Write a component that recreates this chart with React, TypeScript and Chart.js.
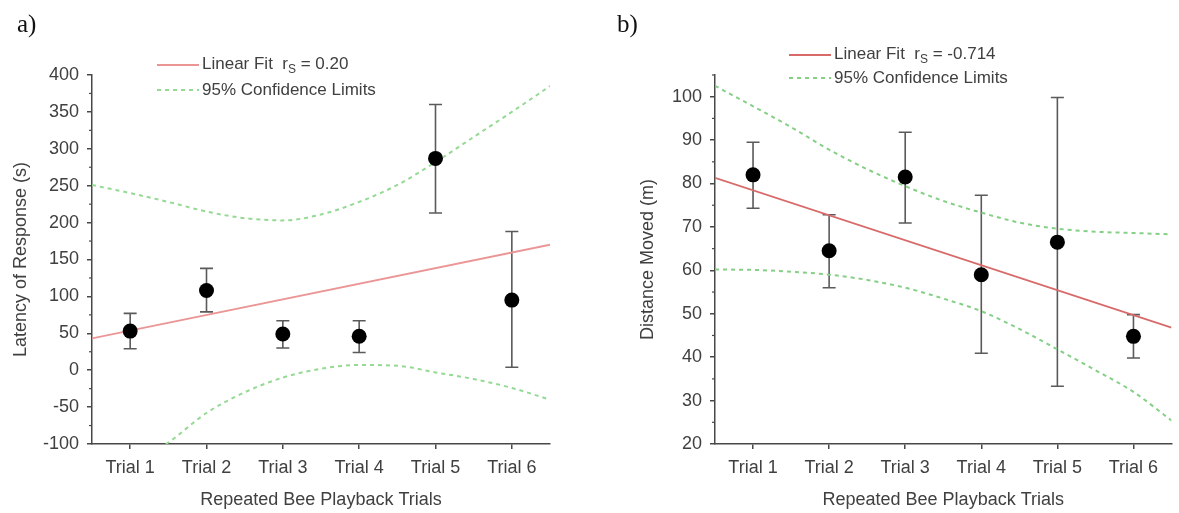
import React, { useEffect, useRef } from 'react';
import { Chart, registerables } from 'chart.js';

Chart.register(...registerables);

// ---------- shared categories ----------
const trialLabels = ['Trial 1', 'Trial 2', 'Trial 3', 'Trial 4', 'Trial 5', 'Trial 6'];
const trialX = [1, 2, 3, 4, 5, 6];
const fitX = [0.5, 6.5];
const bandX = [0.5, 1, 1.5, 2, 2.5, 3, 3.5, 4, 4.5, 5, 5.5, 6, 6.5];

// ---------- panel a) latency ----------
const latencyMean = [53, 108, 49, 46, 287, 95];
const latencyHigh = [77, 138, 67, 67, 360, 188];
const latencyLow = [29, 79, 30, 24, 213, 4];
const latencyFit = [43, 170];
const latencyUpper = [251, 240, 228, 215, 206, 203, 211, 228, 251, 282, 316, 350, 385];
const latencyLower = [-165, -130, -98, -58, -30, -10, 2, 7, 6, -3, -12, -24, -40];
const latencyTicks = [-100, -50, 0, 50, 100, 150, 200, 250, 300, 350, 400];
const latencyMinor = [-75, -25, 25, 75, 125, 175, 225, 275, 325, 375];

// ---------- panel b) distance ----------
const distanceMean = [82, 64.5, 81.5, 59, 66.5, 44.8];
const distanceHigh = [89.5, 72.8, 91.8, 77.3, 99.8, 49.8];
const distanceLow = [74.3, 56, 70.9, 40.9, 33.3, 39.8];
const distanceFit = [81.3, 46.8];
const distanceUpper = [102.5, 97.8, 93, 87.8, 83.3, 79.4, 76, 73.3, 71, 69.6, 68.9, 68.6, 68.3];
const distanceLower = [60.2, 60.1, 59.7, 59, 57.8, 56, 53.5, 50.6, 46.5, 41.8, 37, 32, 25.4];
const distanceTicks = [20, 30, 40, 50, 60, 70, 80, 90, 100];
const distanceMinor = [25, 35, 45, 55, 65, 75, 85, 95, 105];

const FONT = "'Liberation Sans', Arial, Helvetica, sans-serif";
const TEXT = '#404040';
const AXIS = '#484848';

type PanelCfg = {
  left: number;
  width: number;
  padRight: number;
  padTop: number;
  yTitlePad: number;
  yTitle: string;
  yMin: number;
  yMax: number;
  yTicks: number[];
  yMinor: number[];
  mean: number[];
  high: number[];
  low: number[];
  fit: number[];
  upper: number[];
  lower: number[];
  fitColor: string;
  bandColor: string;
};

function Panel({ cfg }: { cfg: PanelCfg }) {
  const ref = useRef<HTMLCanvasElement>(null);
  useEffect(() => {
    if (!ref.current) return;
    const errorBars = {
      id: 'errorBars',
      beforeDatasetsDraw(chart: any) {
        const xs = chart.scales.x;
        const ys = chart.scales.y;
        const ctx = chart.ctx;
        ctx.save();
        ctx.strokeStyle = '#5a5a5a';
        ctx.lineWidth = 1.6;
        trialX.forEach((xv, i) => {
          const px = xs.getPixelForValue(xv);
          const hi = ys.getPixelForValue(cfg.high[i]);
          const lo = ys.getPixelForValue(cfg.low[i]);
          ctx.beginPath();
          ctx.moveTo(px, hi);
          ctx.lineTo(px, lo);
          ctx.moveTo(px - 6.5, hi);
          ctx.lineTo(px + 6.5, hi);
          ctx.moveTo(px - 6.5, lo);
          ctx.lineTo(px + 6.5, lo);
          ctx.stroke();
        });
        ctx.restore();
      },
    };
    const minorTicks = {
      id: 'minorTicks',
      afterDraw(chart: any) {
        const ys = chart.scales.y;
        const ctx = chart.ctx;
        const left = chart.chartArea.left;
        ctx.save();
        ctx.strokeStyle = AXIS;
        ctx.lineWidth = 1.2;
        cfg.yMinor.forEach((v) => {
          const py = ys.getPixelForValue(v);
          ctx.beginPath();
          ctx.moveTo(left - 3, py);
          ctx.lineTo(left, py);
          ctx.stroke();
        });
        ctx.restore();
      },
    };
    const font = { family: FONT, size: 18 };
    const chart = new Chart(ref.current, {
      type: 'scatter',
      data: {
        datasets: [
          {
            data: cfg.mean.map((y, i) => ({ x: trialX[i], y })),
            pointRadius: 7.5,
            pointHoverRadius: 7.5,
            backgroundColor: '#000',
            borderColor: '#000',
            borderWidth: 0,
            showLine: false,
          },
          {
            data: fitX.map((x, i) => ({ x, y: cfg.fit[i] })),
            showLine: true,
            borderColor: cfg.fitColor,
            borderWidth: 1.8,
            pointRadius: 0,
          },
          {
            data: bandX.map((x, i) => ({ x, y: cfg.upper[i] })),
            showLine: true,
            borderColor: cfg.bandColor,
            borderWidth: 2,
            borderDash: [4, 4],
            pointRadius: 0,
            cubicInterpolationMode: 'monotone',
          },
          {
            data: bandX.map((x, i) => ({ x, y: cfg.lower[i] })),
            showLine: true,
            borderColor: cfg.bandColor,
            borderWidth: 2,
            borderDash: [4, 4],
            pointRadius: 0,
            cubicInterpolationMode: 'monotone',
          },
        ],
      } as any,
      options: {
        responsive: false,
        animation: false,
        events: [],
        layout: { padding: { top: cfg.padTop, right: cfg.padRight, bottom: 0, left: 0 } },
        plugins: { legend: { display: false }, tooltip: { enabled: false } },
        scales: {
          x: {
            type: 'linear',
            min: 0.5,
            max: 6.5,
            afterBuildTicks: (s: any) => {
              s.ticks = trialX.map((v) => ({ value: v }));
            },
            afterFit: (s: any) => {
              s.height = 69;
            },
            ticks: {
              callback: (v: any) => trialLabels[Number(v) - 1],
              font,
              color: TEXT,
              padding: 8,
              maxRotation: 0,
            },
            grid: { drawOnChartArea: false, tickLength: 5, color: AXIS, lineWidth: 1.5 },
            border: { color: AXIS, width: 1.5 },
            title: {
              display: true,
              text: 'Repeated Bee Playback Trials',
              font,
              color: TEXT,
              padding: { top: 0, bottom: 2 },
            },
          },
          y: {
            type: 'linear',
            min: cfg.yMin,
            max: cfg.yMax,
            afterBuildTicks: (s: any) => {
              s.ticks = cfg.yTicks.map((v) => ({ value: v }));
            },
            afterFit: (s: any) => {
              s.width = 92;
            },
            ticks: { font, color: TEXT, padding: 8 },
            grid: { drawOnChartArea: false, tickLength: 5, color: AXIS, lineWidth: 1.5 },
            border: { color: AXIS, width: 1.5 },
            title: {
              display: true,
              text: cfg.yTitle,
              font,
              color: TEXT,
              padding: { top: cfg.yTitlePad, bottom: 0 },
            },
          },
        },
      } as any,
      plugins: [errorBars, minorTicks],
    });
    return () => chart.destroy();
  }, []);
  return (
    <canvas
      ref={ref}
      width={cfg.width}
      height={513}
      style={{ position: 'absolute', left: cfg.left, top: 0, width: cfg.width, height: 513 }}
    />
  );
}

function LegendRow({ x, y, color, dashed, children }: any) {
  return (
    <div
      style={{
        position: 'absolute',
        left: x,
        top: y - 12,
        height: 24,
        display: 'flex',
        alignItems: 'center',
        fontFamily: FONT,
        fontSize: 17,
        color: TEXT,
        whiteSpace: 'nowrap',
      }}
    >
      <svg width={42} height={6} style={{ marginRight: 3 }}>
        <line
          x1={0}
          y1={3}
          x2={42}
          y2={3}
          stroke={color}
          strokeWidth={2}
          strokeDasharray={dashed ? '4 4' : undefined}
        />
      </svg>
      <span>{children}</span>
    </div>
  );
}

const panelA: PanelCfg = {
  left: 0,
  width: 590,
  padRight: 40,
  padTop: 75,
  yTitlePad: 10,
  yTitle: 'Latency of Response (s)',
  yMin: -100,
  yMax: 400,
  yTicks: latencyTicks,
  yMinor: latencyMinor,
  mean: latencyMean,
  high: latencyHigh,
  low: latencyLow,
  fit: latencyFit,
  upper: latencyUpper,
  lower: latencyLower,
  fitColor: '#eb9595',
  bandColor: '#94d994',
};

const panelB: PanelCfg = {
  left: 623,
  width: 556,
  padRight: 6,
  padTop: 75,
  yTitlePad: 14,
  yTitle: 'Distance Moved (m)',
  yMin: 20,
  yMax: 105,
  yTicks: distanceTicks,
  yMinor: distanceMinor,
  mean: distanceMean,
  high: distanceHigh,
  low: distanceLow,
  fit: distanceFit,
  upper: distanceUpper,
  lower: distanceLower,
  fitColor: '#d86a6a',
  bandColor: '#86cf86',
};

export default function App() {
  useEffect(() => {
    document.body.style.margin = '0';
  }, []);
  const sub = (t: string) => (
    <sub style={{ fontSize: 12, verticalAlign: -4 }}>{t}</sub>
  );
  return (
    <div style={{ position: 'relative', width: 1179, height: 513, background: '#fff', overflow: 'hidden' }}>
      <Panel cfg={panelA} />
      <Panel cfg={panelB} />
      <div style={{ position: 'absolute', left: 17, top: 10, fontFamily: "'Liberation Serif', 'Times New Roman', serif", fontSize: 25, color: '#111' }}>a)</div>
      <div style={{ position: 'absolute', left: 617, top: 10, fontFamily: "'Liberation Serif', 'Times New Roman', serif", fontSize: 25, color: '#111' }}>b)</div>
      <LegendRow x={157} y={65} color={panelA.fitColor}>
        Linear Fit&nbsp; r{sub('S')} = 0.20
      </LegendRow>
      <LegendRow x={157} y={90} color={panelA.bandColor} dashed>
        95% Confidence Limits
      </LegendRow>
      <LegendRow x={789} y={55} color={panelB.fitColor}>
        Linear Fit&nbsp; r{sub('S')} = -0.714
      </LegendRow>
      <LegendRow x={789} y={78} color={panelB.bandColor} dashed>
        95% Confidence Limits
      </LegendRow>
    </div>
  );
}
